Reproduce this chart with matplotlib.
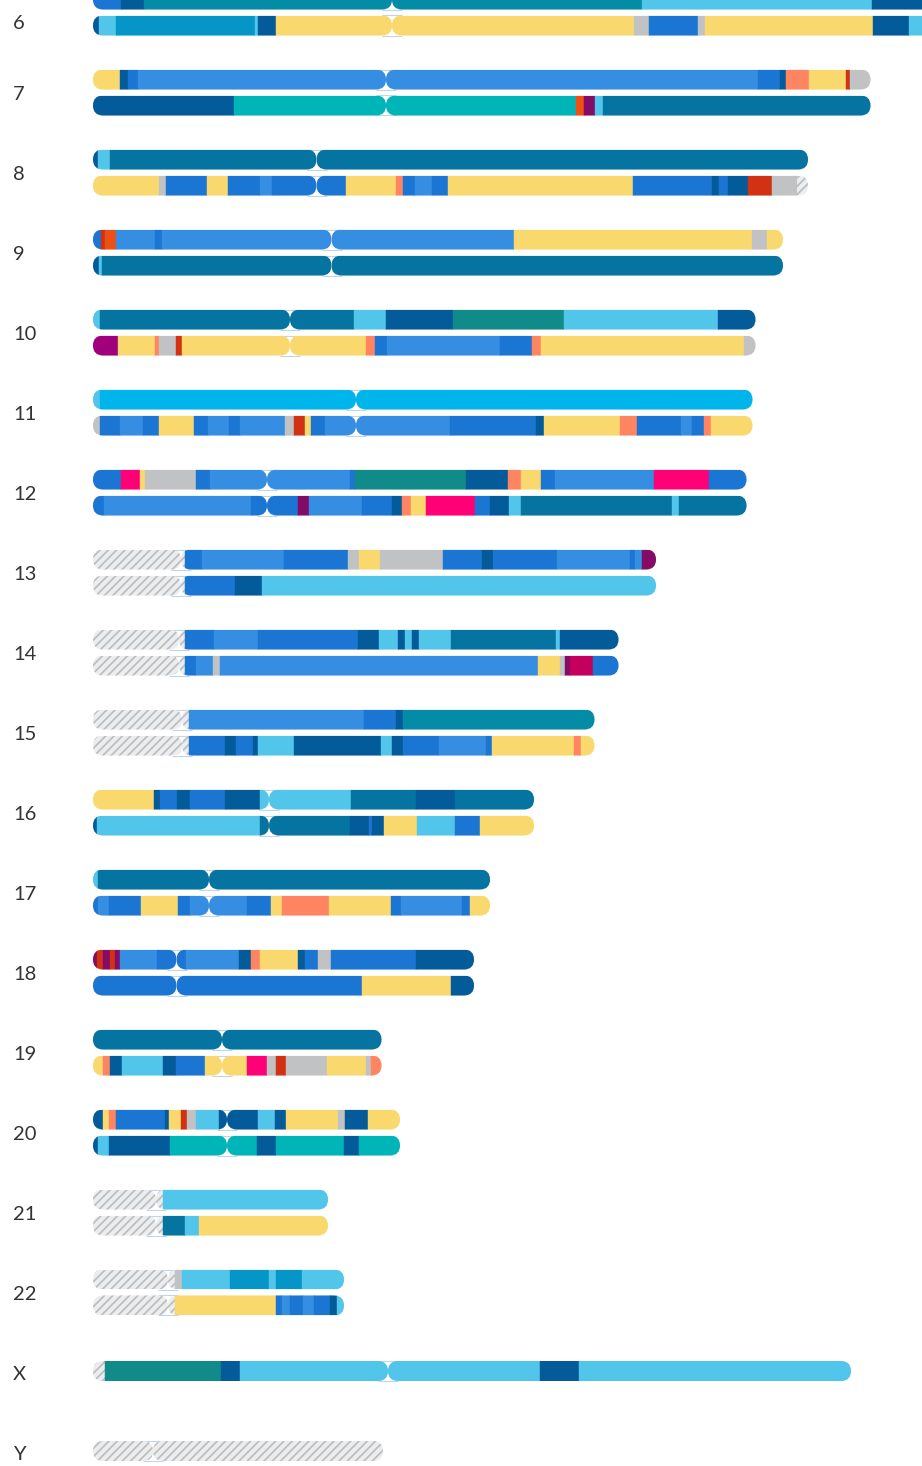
import matplotlib
matplotlib.use('Agg')
import matplotlib.pyplot as plt
from matplotlib.patches import FancyBboxPatch, Rectangle

# chromosome painting, two haplotypes per chromosome
# positions are in Mb-like units, each segment is (end, ancestry) and starts
# where the previous one stopped

CHROMS = ['6', '7', '8', '9', '10', '11', '12', '13', '14', '15', '16',
          '17', '18', '19', '20', '21', '22', 'X', 'Y']

CENTROMERES = [59.8, 58.6, 44.7, 47.7, 39.4, 52.6, 34.8, 17.6, 17.2, 17.8,
               35.2, 23.2, 16.7, 25.8, 26.8, 12.6, 15.0, 59.0, 12.0]

CHR6_A = [(5.6, 'B'), (10.2, 'DB'), (109.8, 'PT'), (155.8, 'LB'), (168.4, 'DB')]
CHR6_B = [(1.1, 'DB'), (4.6, 'LB'), (32.4, 'OC'), (33.0, 'LB'), (36.6, 'DB'),
          (108.2, 'Y'), (111.2, 'G'), (121.0, 'B'), (122.4, 'G'), (156.0, 'Y'),
          (163.2, 'DB'), (168.4, 'LB')]

CHR7_A = [(5.4, 'Y'), (7.0, 'DB'), (9.0, 'B'), (133.0, 'MB'), (137.4, 'B'),
          (138.6, 'DB'), (143.2, 'S'), (150.6, 'Y'), (151.4, 'R'), (155.5, 'G')]
CHR7_B = [(28.2, 'DB'), (96.6, 'TQ'), (98.2, 'OR'), (100.4, 'P'), (102.0, 'LB'),
          (155.5, 'T')]

CHR8_A = [(1.0, 'DB'), (3.4, 'LB'), (143.0, 'T')]
CHR8_B = [(13.2, 'Y'), (14.6, 'G'), (22.8, 'B'), (27.0, 'Y'), (33.4, 'B'),
          (35.8, 'MB'), (50.6, 'B'), (60.6, 'Y'), (62.0, 'S'), (64.4, 'B'),
          (67.8, 'MB'), (71.0, 'B'), (108.0, 'Y'), (123.8, 'B'), (125.2, 'DB'),
          (127.0, 'B'), (131.0, 'DB'), (135.8, 'R'), (140.8, 'G'), (143.0, 'U')]

CHR9_A = [(1.5, 'B'), (2.4, 'R'), (4.6, 'OR'), (12.4, 'MB'), (13.8, 'B'),
          (84.2, 'MB'), (131.8, 'Y'), (134.8, 'G'), (138.0, 'Y')]
CHR9_B = [(1.2, 'DB'), (1.8, 'LB'), (138.0, 'T')]

CHR10_A = [(1.4, 'LB'), (52.2, 'T'), (58.6, 'LB'), (72.0, 'DB'), (94.2, 'GT'),
           (125.0, 'LB'), (132.5, 'DB')]
CHR10_B = [(5.0, 'M'), (12.4, 'Y'), (13.2, 'S'), (16.6, 'G'), (17.8, 'R'),
           (54.6, 'Y'), (56.4, 'S'), (58.8, 'B'), (81.4, 'MB'), (87.8, 'B'),
           (89.6, 'S'), (130.2, 'Y'), (132.5, 'G')]

CHR11_A = [(1.4, 'LB'), (131.9, 'CY')]
CHR11_B = [(1.4, 'G'), (5.4, 'B'), (10.0, 'MB'), (13.2, 'B'), (20.2, 'Y'),
           (23.0, 'B'), (27.2, 'MB'), (29.4, 'B'), (38.4, 'MB'), (40.2, 'G'),
           (42.4, 'R'), (43.6, 'Y'), (46.4, 'B'), (71.4, 'MB'), (88.6, 'B'),
           (90.2, 'DB'), (105.4, 'Y'), (108.8, 'S'), (117.6, 'B'), (119.8, 'MB'),
           (122.2, 'B'), (123.6, 'S'), (131.9, 'Y')]

CHR12_A = [(5.6, 'B'), (9.4, 'PK'), (10.4, 'Y'), (20.6, 'G'), (23.4, 'B'),
           (51.4, 'MB'), (52.4, 'B'), (74.6, 'GT'), (83.0, 'DB'), (85.6, 'S'),
           (89.6, 'Y'), (92.4, 'B'), (112.2, 'MB'), (123.2, 'PK'), (130.7, 'B')]
CHR12_B = [(2.2, 'B'), (31.6, 'MB'), (41.0, 'B'), (43.2, 'P'), (53.8, 'MB'),
           (59.8, 'B'), (61.8, 'DB'), (63.6, 'S'), (66.6, 'Y'), (76.4, 'PK'),
           (79.4, 'B'), (83.2, 'DB'), (85.6, 'LB'), (115.8, 'T'), (117.2, 'LB'),
           (130.7, 'T')]

CHR13_A = [(18.4, 'U'), (21.8, 'B'), (38.2, 'MB'), (51.0, 'B'), (53.2, 'G'),
           (57.4, 'Y'), (70.0, 'G'), (77.8, 'B'), (80.0, 'DB'), (92.8, 'B'),
           (107.4, 'MB'), (108.4, 'B'), (109.8, 'MB'), (112.6, 'P')]
CHR13_B = [(18.4, 'U'), (28.4, 'B'), (33.8, 'DB'), (112.6, 'LB')]

CHR14_A = [(18.4, 'U'), (24.2, 'B'), (33.0, 'MB'), (53.0, 'B'), (57.2, 'DB'),
           (61.0, 'LB'), (62.4, 'DB'), (63.8, 'LB'), (65.2, 'DB'), (71.6, 'LB'),
           (92.6, 'T'), (93.4, 'LB'), (105.1, 'DB')]
CHR14_B = [(18.4, 'U'), (20.6, 'B'), (24.0, 'MB'), (25.4, 'G'), (89.0, 'MB'),
           (93.4, 'Y'), (94.4, 'G'), (95.4, 'P'), (100.0, 'CR'), (105.1, 'B')]

CHR15_A = [(19.2, 'U'), (54.2, 'MB'), (60.6, 'B'), (62.0, 'DB'), (100.3, 'PT')]
CHR15_B = [(19.2, 'U'), (26.4, 'B'), (28.6, 'DB'), (32.0, 'B'), (33.0, 'DB'),
           (40.2, 'LB'), (57.6, 'DB'), (59.8, 'LB'), (62.0, 'DB'), (69.2, 'B'),
           (78.6, 'MB'), (79.8, 'B'), (96.2, 'Y'), (97.6, 'S'), (100.3, 'Y')]

CHR16_A = [(12.2, 'Y'), (13.4, 'DB'), (16.8, 'B'), (19.4, 'DB'), (26.4, 'B'),
           (33.4, 'DB'), (51.6, 'LB'), (64.6, 'T'), (72.4, 'DB'), (88.2, 'T')]
CHR16_B = [(0.8, 'DB'), (33.4, 'LB'), (51.4, 'T'), (55.2, 'DB'), (55.8, 'B'),
           (58.2, 'DB'), (64.8, 'Y'), (72.4, 'LB'), (77.4, 'B'), (88.2, 'Y')]

CHR17_A = [(1.0, 'LB'), (79.4, 'T')]
CHR17_B = [(1.0, 'B'), (3.2, 'MB'), (9.6, 'B'), (17.0, 'Y'), (19.4, 'B'),
           (30.8, 'MB'), (35.6, 'B'), (37.8, 'Y'), (47.2, 'S'), (59.6, 'Y'),
           (61.6, 'B'), (73.8, 'MB'), (75.4, 'B'), (79.4, 'Y')]

CHR18_A = [(0.8, 'P'), (2.0, 'R'), (3.4, 'P'), (4.4, 'R'), (5.4, 'P'),
           (12.8, 'MB'), (18.6, 'B'), (29.2, 'MB'), (31.6, 'DB'), (33.4, 'S'),
           (41.0, 'Y'), (42.4, 'DB'), (45.0, 'B'), (47.6, 'G'), (64.6, 'B'),
           (76.2, 'DB')]
CHR18_B = [(53.8, 'B'), (71.6, 'Y'), (76.2, 'DB')]

CHR19_A = [(57.7, 'T')]
CHR19_B = [(2.0, 'Y'), (3.4, 'S'), (5.8, 'DB'), (14.0, 'LB'), (16.6, 'DB'),
           (22.4, 'B'), (30.8, 'Y'), (34.8, 'PK'), (36.6, 'G'), (38.6, 'R'),
           (46.8, 'G'), (54.6, 'Y'), (55.6, 'G'), (57.7, 'S')]

CHR20_A = [(2.0, 'DB'), (3.2, 'Y'), (4.6, 'S'), (14.4, 'B'), (15.2, 'DB'),
           (17.6, 'Y'), (18.8, 'R'), (20.6, 'G'), (25.2, 'LB'), (33.0, 'DB'),
           (36.4, 'LB'), (38.6, 'DB'), (49.0, 'Y'), (50.4, 'G'), (55.0, 'DB'),
           (61.4, 'Y')]
CHR20_B = [(1.0, 'DB'), (3.2, 'LB'), (15.4, 'DB'), (32.8, 'TQ'), (36.6, 'DB'),
           (50.2, 'TQ'), (53.2, 'DB'), (61.4, 'TQ')]

CHR21_A = [(14.0, 'U'), (47.0, 'LB')]
CHR21_B = [(14.0, 'U'), (18.4, 'T'), (21.2, 'LB'), (47.0, 'Y')]

CHR22_A = [(16.4, 'U'), (17.8, 'G'), (27.4, 'LB'), (35.2, 'OC'), (36.6, 'LB'),
           (41.8, 'OC'), (50.2, 'LB')]
CHR22_B = [(16.4, 'U'), (36.6, 'Y'), (37.8, 'B'), (39.4, 'MB'), (42.0, 'B'),
           (44.2, 'MB'), (47.4, 'B'), (48.8, 'DB'), (50.2, 'LB')]

CHRX_A = [(2.4, 'U'), (25.6, 'GT'), (29.4, 'DB'), (89.4, 'LB'), (97.2, 'DB'),
          (151.6, 'LB')]
CHRY_A = [(58.0, 'U')]

HAPLOTYPES = [
    [CHR6_A, CHR6_B], [CHR7_A, CHR7_B], [CHR8_A, CHR8_B], [CHR9_A, CHR9_B],
    [CHR10_A, CHR10_B], [CHR11_A, CHR11_B], [CHR12_A, CHR12_B],
    [CHR13_A, CHR13_B], [CHR14_A, CHR14_B], [CHR15_A, CHR15_B],
    [CHR16_A, CHR16_B], [CHR17_A, CHR17_B], [CHR18_A, CHR18_B],
    [CHR19_A, CHR19_B], [CHR20_A, CHR20_B], [CHR21_A, CHR21_B],
    [CHR22_A, CHR22_B], [CHRX_A], [CHRY_A],
]

COLORS = {
    'Y': '#F9D96E', 'LB': '#52C6EA', 'MB': '#368EE2', 'B': '#1A76D2',
    'DB': '#045B9A', 'T': '#0674A0', 'CY': '#00B4EC', 'TQ': '#00B5B8',
    'GT': '#108B8A', 'PT': '#048BA6', 'OC': '#0596C7', 'G': '#C1C2C4',
    'S': '#FF8562', 'R': '#D23214', 'OR': '#EC5014', 'P': '#820C66',
    'M': '#A0007C', 'PK': '#FF0077', 'CR': '#C4005E',
}
UNKNOWN_FILL = '#ECEDEF'
UNKNOWN_HATCH = '#BDBEC0'

# layout: 1 unit = 5 px
SCALE = 5.0
ROW = 16.0
BAR_H = 4.0
BAR_GAP = 1.2


def make_arms(ax, y, length, cen):
    '''two rounded arms meeting at the centromere'''
    r = BAR_H / 2.0
    arms = []
    for x0, x1 in ((0.0, cen), (cen, length)):
        p = FancyBboxPatch((x0, y), x1 - x0, BAR_H,
                           boxstyle='round,pad=0,rounding_size=%g' % r,
                           facecolor='none', edgecolor='none', lw=0)
        ax.add_patch(p)
        arms.append((x0, x1, p))
    # thin outline bridging the pinch
    for yy in (y, y + BAR_H):
        ax.plot([cen - r, cen + r], [yy, yy], color='#C3D4E4', lw=0.8,
                solid_capstyle='butt', zorder=1)
    return arms


def draw_haplotype(ax, y, segs, cen):
    length = segs[-1][0]
    arms = make_arms(ax, y, length, cen)
    start = 0.0
    for end, key in segs:
        for a0, a1, patch in arms:
            lo, hi = max(start, a0), min(end, a1)
            if hi <= lo:
                continue
            if key == 'U':
                rect = Rectangle((lo, y), hi - lo, BAR_H, facecolor=UNKNOWN_FILL,
                                 edgecolor=UNKNOWN_HATCH, lw=0, hatch='////',
                                 zorder=2)
            else:
                c = COLORS[key]
                rect = Rectangle((lo, y), hi - lo, BAR_H, facecolor=c,
                                 edgecolor=c, lw=0.3, zorder=2)
            ax.add_patch(rect)
            rect.set_clip_path(patch)
        start = end


def main():
    plt.rcParams['hatch.linewidth'] = 1.3
    W, H = 922, 1466
    fig = plt.figure(figsize=(W / 100.0, H / 100.0), dpi=100)
    ax = fig.add_axes([0, 0, 1, 1])
    x0 = 93.0 / SCALE
    ax.set_xlim(-x0, W / SCALE - x0)
    ax.set_ylim(H / SCALE, 0)
    ax.axis('off')

    for i, name in enumerate(CHROMS):
        top = -2.1 + ROW * i
        haps = HAPLOTYPES[i]
        cen = CENTROMERES[i]
        if len(haps) == 2:
            draw_haplotype(ax, top, haps[0], cen)
            draw_haplotype(ax, top + BAR_H + BAR_GAP, haps[1], cen)
        else:
            draw_haplotype(ax, top + 2.3, haps[0], cen)

        # label baseline, the first one sticks to the top edge
        base = max(top + 6.1, 29.0 / SCALE)
        ax.text(-16.0, base, name, ha='left', va='baseline', fontsize=14.5,
                family=['Lato', 'DejaVu Sans'], color='#333333')

    fig.savefig('out.png', dpi=100)


if __name__ == '__main__':
    main()
